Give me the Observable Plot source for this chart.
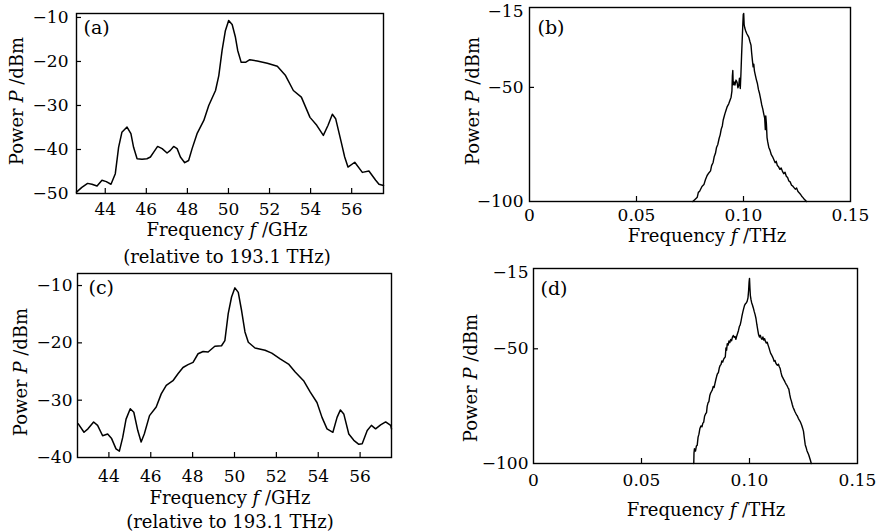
<!DOCTYPE html>
<html><head><meta charset="utf-8">
<script src="https://cdn.jsdelivr.net/npm/d3@7"></script>
<script src="https://cdn.jsdelivr.net/npm/@observablehq/plot@0.6"></script>
<style>
body{margin:0;background:#fff;}
#wrap{position:relative;width:877px;height:531px;overflow:hidden;background:#fff;}
.panel{position:absolute;}
</style></head><body><div id="wrap"></div>
<script>
// ---- data ----
const aFreqGHz = [42.6,42.86,43.14,43.35,43.6,43.84,44.05,44.28,44.49,44.65,44.81,45.06,45.25,45.38,45.55,45.79,46.03,46.2,46.36,46.55,46.77,47.01,47.17,47.33,47.5,47.66,47.87,48.06,48.23,48.47,48.8,49.04,49.37,49.53,49.69,49.85,50.01,50.18,50.34,50.45,50.62,50.83,51.04,51.4,51.89,52.38,52.78,53.16,53.55,53.97,54.3,54.62,54.85,55.06,55.22,55.5,55.66,55.82,56.15,56.52,56.84,57.17,57.33,57.55];
const aPowerDbm = [-49.7,-48.6,-47.7,-47.9,-48.3,-47.0,-47.3,-47.9,-45.5,-39.5,-36.1,-34.9,-36.4,-39.5,-42.1,-42.2,-42.1,-41.7,-40.6,-39.3,-39.8,-40.8,-40.2,-39.3,-39.8,-41.7,-43.0,-42.5,-39.8,-36.4,-33.4,-30.0,-26.6,-23.2,-17.5,-13.0,-10.7,-11.6,-14.5,-17.5,-20.2,-20.2,-19.6,-19.9,-20.4,-21.1,-23.2,-26.6,-28.1,-32.7,-34.5,-36.8,-34.5,-32.0,-33.0,-38.5,-41.7,-44.0,-42.9,-45.2,-44.9,-47.0,-47.9,-48.2];

const cFreqGHz = [42.53,42.81,43.0,43.27,43.46,43.7,43.94,44.13,44.34,44.5,44.66,44.82,45.02,45.19,45.38,45.54,45.69,45.94,46.26,46.5,46.74,47.06,47.3,47.54,47.78,48.02,48.26,48.5,48.74,49.06,49.38,49.54,49.7,49.86,50.02,50.18,50.34,50.5,50.66,50.98,51.46,51.78,52.18,52.58,52.9,53.3,53.62,53.94,54.18,54.42,54.7,54.9,55.06,55.22,55.46,55.7,55.94,56.1,56.34,56.54,56.74,56.98,57.22,57.46,57.5];
const cPowerDbm = [-34.1,-35.6,-35.0,-33.8,-34.4,-36.2,-35.9,-36.7,-38.5,-38.9,-36.5,-33.3,-31.5,-32.1,-35.3,-37.3,-35.9,-32.7,-31.2,-28.9,-27.4,-26.6,-25.4,-24.3,-23.8,-23.4,-21.9,-21.5,-21.6,-20.6,-20.5,-19.6,-14.9,-12.0,-10.4,-11.2,-14.4,-18.1,-19.9,-20.9,-21.3,-21.8,-22.8,-23.7,-25.1,-26.6,-28.6,-30.4,-33.0,-35.0,-35.6,-33.0,-31.7,-32.4,-35.9,-37.0,-37.7,-37.6,-35.3,-34.4,-35.0,-34.3,-33.8,-34.4,-35.0];

const bFreqTHz = [0.0763,0.0772,0.0784,0.0789,0.0795,0.0806,0.0815,0.0822,0.0830,0.0838,0.0846,0.0851,0.0858,0.0863,0.0869,0.0874,0.0880,0.0886,0.0891,0.0896,0.0901,0.0905,0.0909,0.0913,0.0918,0.0924,0.0931,0.0937,0.0942,0.0946,0.0948,0.0950,0.0952,0.0956,0.0960,0.0965,0.0970,0.0974,0.0978,0.0981,0.0985,0.0988,0.0991,0.0994,0.0997,0.0999,0.1001,0.1003,0.1006,0.1010,0.1015,0.1020,0.1025,0.1030,0.1035,0.1038,0.1042,0.1045,0.1048,0.1051,0.1055,0.1060,0.1065,0.1070,0.1075,0.1080,0.1085,0.1090,0.1095,0.1099,0.1102,0.1104,0.1107,0.1110,0.1113,0.1118,0.1124,0.1130,0.1136,0.1142,0.1148,0.1153,0.1158,0.1164,0.1170,0.1176,0.1182,0.1188,0.1194,0.1200,0.1206,0.1212,0.1218,0.1224,0.1230,0.1236,0.1242,0.1248,0.1254,0.1260,0.1266,0.1272,0.1278,0.1284,0.1290,0.1294];
const bPowerDbm = [-100,-99.2,-98.1,-96.0,-95.5,-93.4,-92.6,-90.5,-88.6,-87.5,-86.6,-84.3,-82.9,-80.4,-78.9,-76.3,-75.0,-72.4,-70.8,-68.3,-66.9,-64.4,-63.0,-61.6,-60.1,-58.4,-57.2,-55.6,-54.3,-51.5,-45.0,-42.6,-48.9,-47.6,-49.0,-46.8,-47.8,-50.2,-49.0,-46.0,-50.5,-44.0,-36.0,-29.0,-22.0,-18.0,-17.6,-22.5,-24.0,-25.2,-26.4,-27.2,-28.1,-29.9,-31.5,-34.8,-38.5,-41.0,-39.8,-42.8,-44.5,-46.6,-48.3,-51.0,-52.7,-55.0,-57.6,-59.4,-61.8,-63.4,-68.5,-62.5,-66.0,-72.0,-73.8,-76.2,-77.6,-79.5,-80.4,-81.7,-83.0,-82.4,-84.2,-84.8,-85.9,-85.3,-86.8,-87.8,-87.2,-88.9,-89.5,-91.0,-91.4,-92.8,-93.2,-93.9,-94.6,-94.1,-95.5,-96.2,-96.8,-97.7,-98.3,-99.0,-99.6,-100];

const dFreqTHz = [0.0742,0.0743,0.0745,0.0750,0.0754,0.0758,0.0762,0.0766,0.0770,0.0775,0.0780,0.0784,0.0788,0.0792,0.0797,0.0801,0.0804,0.0808,0.0812,0.0816,0.0820,0.0824,0.0828,0.0832,0.0836,0.0840,0.0844,0.0848,0.0852,0.0856,0.0860,0.0864,0.0868,0.0872,0.0876,0.0880,0.0884,0.0888,0.0891,0.0894,0.0897,0.0901,0.0905,0.0909,0.0913,0.0917,0.0921,0.0925,0.0929,0.0933,0.0937,0.0941,0.0945,0.0949,0.0953,0.0957,0.0961,0.0965,0.0969,0.0973,0.0977,0.0981,0.0985,0.0989,0.0993,0.0996,0.0998,0.1000,0.1002,0.1004,0.1007,0.1010,0.1014,0.1018,0.1022,0.1026,0.1030,0.1034,0.1038,0.1042,0.1046,0.1050,0.1054,0.1058,0.1062,0.1066,0.1070,0.1074,0.1078,0.1082,0.1086,0.1090,0.1094,0.1098,0.1102,0.1106,0.1110,0.1114,0.1118,0.1122,0.1126,0.1130,0.1134,0.1138,0.1142,0.1146,0.1150,0.1154,0.1158,0.1162,0.1166,0.1170,0.1174,0.1178,0.1182,0.1186,0.1190,0.1194,0.1198,0.1202,0.1206,0.1210,0.1214,0.1218,0.1222,0.1226,0.1230,0.1234,0.1238,0.1242,0.1246,0.1250,0.1254,0.1258,0.1262,0.1266,0.1270,0.1274,0.1278,0.1282,0.1286];
const dPowerDbm = [-100,-95.5,-93.6,-94.6,-92.4,-92.0,-88.5,-87.2,-84.9,-83.6,-84.0,-82.4,-82.0,-79.4,-78.3,-77.8,-75.1,-73.6,-73.0,-70.5,-69.3,-68.6,-67.9,-66.4,-66.9,-65.2,-63.5,-62.0,-60.8,-60.4,-58.4,-57.3,-56.9,-55.3,-55.8,-54.6,-54.0,-53.5,-49.6,-50.6,-47.8,-48.4,-46.6,-47.3,-45.9,-46.5,-44.9,-44.2,-45.0,-44.6,-45.9,-44.4,-43.2,-42.0,-40.3,-39.6,-37.8,-35.8,-34.0,-32.5,-31.1,-30.4,-30.0,-29.3,-27.8,-24.5,-21.0,-19.3,-23.5,-26.8,-28.6,-29.9,-31.0,-32.3,-33.8,-35.1,-36.8,-39.4,-41.6,-43.8,-44.9,-44.1,-45.3,-45.9,-44.8,-46.2,-45.6,-46.8,-47.5,-47.1,-48.4,-49.5,-50.8,-52.0,-52.6,-53.4,-54.2,-55.4,-55.1,-56.3,-56.9,-57.2,-56.7,-57.8,-58.6,-60.4,-61.9,-62.6,-63.3,-64.0,-64.8,-65.5,-66.1,-66.9,-67.6,-69.8,-71.6,-72.8,-74.3,-75.6,-76.4,-77.3,-78.1,-78.8,-79.4,-80.3,-81.0,-81.6,-82.5,-83.4,-84.6,-86.0,-89.0,-91.8,-93.0,-94.4,-95.3,-96.2,-97.4,-98.6,-100];

// ticks and labels
const ghzTicks = [44, 46, 48, 50, 52, 54, 56];
const thzTicks = [0, 0.05, 0.10, 0.15];
const thzTickLabels = ["0", "0.05", "0.10", "0.15"];
const acPowerTicksA = [-10, -20, -30, -40, -50];
const acPowerTicksC = [-10, -20, -30, -40];
const bdPowerTicks = [-15, -50, -100];
const panelTags = ["(a)", "(b)", "(c)", "(d)"];
// label segments: [text, italic]
const yLabelSegs = [[["Power ", false], ["P", true], [" /dBm", false]]];
const xLabelGHzSegs = [[["Frequency ", false], ["f", true], [" /GHz", false]], [["(relative to 193.1 THz)", false]]];
const xLabelTHzSegs = [[["Frequency ", false], ["f", true], [" /THz", false]]];

const FONT = "'DejaVu Serif', serif";

function addLabel(svg, cx, cys, segs, rotate) {
  const g = d3.select(svg).append("g").attr("font-family", FONT).attr("font-size", 18).attr("fill", "#000");
  segs.forEach((line, i) => {
    const t = g.append("text").attr("text-anchor", "middle").attr("dy", "0.35em")
      .attr("transform", rotate ? `translate(${cx},${cys[i]}) rotate(-90)` : `translate(${cx},${cys[i]})`);
    for (const [s, it] of line) {
      const sp = t.append("tspan").text(s);
      if (it) sp.attr("font-style", "italic");
    }
  });
}

function panel(cfg) {
  const data = cfg.xs.map((x, i) => ({x, y: cfg.ys[i]}));
  const plotW = cfg.w - cfg.ml - cfg.mr;
  const plotH = cfg.h - cfg.mt - cfg.mb;
  const xMin = cfg.xDomain[0], xMax = cfg.xDomain[1];
  const yMin = cfg.yDomain[0], yMax = cfg.yDomain[1];
  const yFmt = d => d3.format("d")(d);
  const chart = Plot.plot({
    width: cfg.w, height: cfg.h,
    marginLeft: cfg.ml, marginRight: cfg.mr, marginTop: cfg.mt, marginBottom: cfg.mb,
    style: {fontFamily: FONT, fontSize: "17px", color: "#000", background: "transparent", overflow: "visible"},
    x: {domain: cfg.xDomain},
    y: {domain: cfg.yDomain},
    marks: [
      Plot.axisX(cfg.xTicks, {tickSize: 0, tickPadding: cfg.xPad, tickFormat: cfg.xFormat, label: null}),
      Plot.axisY(cfg.yTicks.filter(d => d !== yMax), {tickSize: 0, tickPadding: cfg.yPad, tickFormat: yFmt, label: null}),
      Plot.axisY(cfg.yTicks.filter(d => d === yMax), {tickSize: 0, tickPadding: cfg.yPad, tickFormat: yFmt, label: null, dy: cfg.topDy || 0}),
      Plot.tickX(cfg.xTicks.filter(d => d > xMin && d < xMax), {x: d => d, stroke: "#000", strokeWidth: 1.2, insetTop: plotH - 5}),
      Plot.tickY(cfg.yTicks.filter(d => d > yMin && d < yMax), {y: d => d, stroke: "#000", strokeWidth: 1.2, insetRight: plotW - 5}),
      Plot.line(data, {x: "x", y: "y", stroke: "#000", strokeWidth: cfg.sw}),
      Plot.frame({stroke: "#000", strokeWidth: 1.4}),
      Plot.text([cfg.tag], {frameAnchor: "top-left", dx: cfg.tagDx, dy: cfg.tagDy, lineAnchor: "middle", textAnchor: "start", fontSize: 19})
    ]
  });
  addLabel(chart, cfg.xlx, cfg.xly, cfg.xSegs, false);
  addLabel(chart, cfg.ylx, [cfg.yly], yLabelSegs, true);
  const div = document.createElement("div");
  div.className = "panel";
  div.style.left = cfg.left + "px";
  div.style.top = cfg.top + "px";
  div.appendChild(chart);
  document.getElementById("wrap").appendChild(div);
}

const thzFmt = d => thzTickLabels[thzTicks.indexOf(d)];

panel({left: 0, top: 0, w: 420, h: 270, ml: 76, mr: 37, mt: 13, mb: 77,
  xs: aFreqGHz, ys: aPowerDbm, xDomain: [42.6, 57.55], yDomain: [-50, -9.1],
  xTicks: ghzTicks, yTicks: acPowerTicksA, xFormat: d => String(d), xPad: 9, yPad: 8,
  xSegs: xLabelGHzSegs, xlx: 227, xly: [230, 257], ylx: 17, yly: 101,
  sw: 1.5, tag: panelTags[0], tagDx: 7, tagDy: 14});

panel({left: 440, top: 0, w: 437, h: 255, ml: 89, mr: 27, mt: 7, mb: 54,
  xs: bFreqTHz, ys: bPowerDbm, xDomain: [0, 0.15], yDomain: [-100, -15],
  xTicks: thzTicks, yTicks: bdPowerTicks, xFormat: thzFmt, xPad: 7, yPad: 6, topDy: 4,
  xSegs: xLabelTHzSegs, xlx: 267, xly: [236], ylx: 33, yly: 101,
  sw: 1.4, tag: panelTags[1], tagDx: 8, tagDy: 20});

panel({left: 0, top: 265, w: 420, h: 266, ml: 77, mr: 29, mt: 8, mb: 74,
  xs: cFreqGHz, ys: cPowerDbm, xDomain: [42.5, 57.5], yDomain: [-40, -7.9],
  xTicks: ghzTicks, yTicks: acPowerTicksC, xFormat: d => String(d), xPad: 12, yPad: 5,
  xSegs: xLabelGHzSegs, xlx: 230, xly: [233, 257], ylx: 21, yly: 107,
  sw: 1.5, tag: panelTags[2], tagDx: 11, tagDy: 14});

panel({left: 440, top: 255, w: 437, h: 276, ml: 93, mr: 20, mt: 13, mb: 68,
  xs: dFreqTHz, ys: dPowerDbm, xDomain: [0, 0.15], yDomain: [-100, -15],
  xTicks: thzTicks, yTicks: bdPowerTicks, xFormat: thzFmt, xPad: 10, yPad: 5, topDy: 4,
  xSegs: xLabelTHzSegs, xlx: 266, xly: [255], ylx: 31, yly: 123,
  sw: 1.4, tag: panelTags[3], tagDx: 7, tagDy: 20});
</script>
</body></html>
